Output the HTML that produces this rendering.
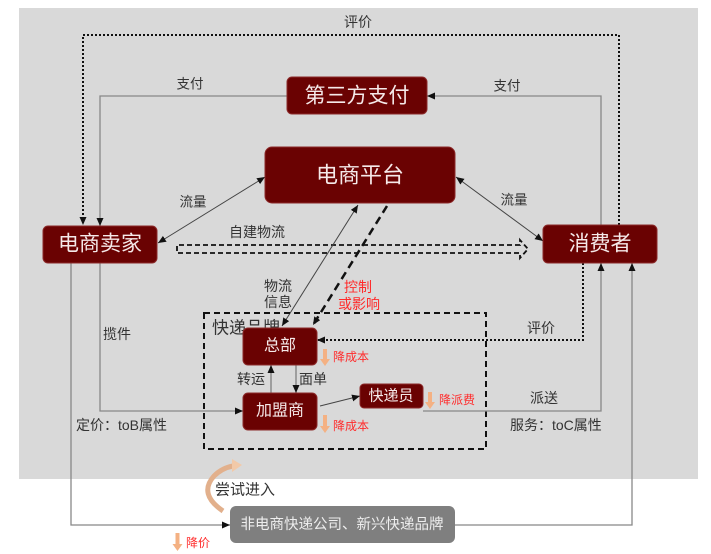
<!DOCTYPE html>
<html><head><meta charset="utf-8"><style>
html,body{margin:0;padding:0;background:#fff;}
svg{display:block;}
text{font-family:"Liberation Sans","Noto Sans CJK SC",sans-serif;}
</style></head><body>
<svg width="711" height="554" viewBox="0 0 711 554" xmlns="http://www.w3.org/2000/svg">
<defs>
<marker id="a" markerUnits="userSpaceOnUse" markerWidth="9" markerHeight="8" refX="8" refY="3.5" orient="auto-start-reverse"><path d="M0,0 L8,3.5 L0,7 z" fill="#111"/></marker>
</defs>
<rect x="19" y="8" width="679" height="471" fill="#d9d9d9"/>

<!-- top dotted 评价 -->
<path d="M619,225 V35 H83 V225" fill="none" stroke="#111" stroke-width="2" stroke-dasharray="2 2" marker-end="url(#a)"/>
<text x="358" y="22" font-size="14" fill="#333" text-anchor="middle" dominant-baseline="central">评价</text>

<!-- 支付 -->
<path d="M287,96 H100 V226" fill="none" stroke="#888" stroke-width="1.3" marker-end="url(#a)"/>
<text x="190" y="84" font-size="13.5" fill="#333" text-anchor="middle" dominant-baseline="central">支付</text>
<path d="M601,225 V96 H427" fill="none" stroke="#888" stroke-width="1.3" marker-end="url(#a)"/>
<text x="507" y="86" font-size="13.5" fill="#333" text-anchor="middle" dominant-baseline="central">支付</text>

<!-- 流量 -->
<line x1="158" y1="243" x2="265" y2="177" stroke="#444" stroke-width="1" marker-start="url(#a)" marker-end="url(#a)"/>
<text x="193" y="202" font-size="13.5" fill="#333" text-anchor="middle" dominant-baseline="central">流量</text>
<line x1="456" y1="177" x2="543" y2="241" stroke="#444" stroke-width="1" marker-start="url(#a)" marker-end="url(#a)"/>
<text x="514" y="200" font-size="13.5" fill="#333" text-anchor="middle" dominant-baseline="central">流量</text>

<!-- 自建物流 hollow arrow -->
<path d="M520,245 H177 V253 H520 V258 L528,249 L520,240 Z" fill="none" stroke="#111" stroke-width="1.8" stroke-dasharray="5 3"/>
<text x="257" y="232" font-size="14" fill="#333" text-anchor="middle" dominant-baseline="central">自建物流</text>

<!-- 物流信息 -->
<line x1="358" y1="205" x2="282" y2="326" stroke="#444" stroke-width="1" marker-start="url(#a)" marker-end="url(#a)"/>
<text x="278" y="286" font-size="14" fill="#333" text-anchor="middle" dominant-baseline="central">物流</text>
<text x="278" y="302" font-size="14" fill="#333" text-anchor="middle" dominant-baseline="central">信息</text>

<!-- 控制或影响 -->
<line x1="387" y1="206" x2="313" y2="325" stroke="#111" stroke-width="2.5" stroke-dasharray="8 5" marker-end="url(#a)"/>
<text x="358" y="287" font-size="14" fill="#ff2b2b" text-anchor="middle" dominant-baseline="central">控制</text>
<text x="359" y="304" font-size="14" fill="#ff2b2b" text-anchor="middle" dominant-baseline="central">或影响</text>

<!-- dashed box -->
<rect x="204" y="313" width="282" height="136" fill="none" stroke="#111" stroke-width="2" stroke-dasharray="6 4"/>
<text x="246" y="328" font-size="17" fill="#333" text-anchor="middle" dominant-baseline="central">快递品牌</text>

<!-- 评价 right dotted -->
<path d="M583,263 V340 H317" fill="none" stroke="#111" stroke-width="2" stroke-dasharray="2 2" marker-end="url(#a)"/>
<text x="541" y="328" font-size="14" fill="#333" text-anchor="middle" dominant-baseline="central">评价</text>

<!-- 揽件 -->
<path d="M100,263 V411 H243" fill="none" stroke="#888" stroke-width="1.3" marker-end="url(#a)"/>
<text x="117" y="334" font-size="14" fill="#333" text-anchor="middle" dominant-baseline="central">揽件</text>

<!-- 非电商 lines -->
<path d="M71,263 V525 H230" fill="none" stroke="#888" stroke-width="1.3" marker-end="url(#a)"/>
<path d="M455,525 H632 V263" fill="none" stroke="#888" stroke-width="1.3" marker-end="url(#a)"/>

<!-- 派送 -->
<path d="M423,411 H601 V263" fill="none" stroke="#888" stroke-width="1.3" marker-end="url(#a)"/>
<text x="544" y="398" font-size="14" fill="#333" text-anchor="middle" dominant-baseline="central">派送</text>
<text x="510" y="425" font-size="14" fill="#333" dominant-baseline="central">服务：toC属性</text>
<text x="76" y="425" font-size="14" fill="#333" dominant-baseline="central">定价：toB属性</text>

<!-- 转运 / 面单 -->
<line x1="271" y1="393" x2="271" y2="365" stroke="#777" stroke-width="1.2" marker-end="url(#a)"/>
<text x="251" y="379" font-size="14" fill="#333" text-anchor="middle" dominant-baseline="central">转运</text>
<line x1="296" y1="365" x2="296" y2="393" stroke="#777" stroke-width="1.2" marker-end="url(#a)"/>
<text x="313" y="379" font-size="14" fill="#333" text-anchor="middle" dominant-baseline="central">面单</text>

<!-- 加盟商 -> 快递员 -->
<line x1="320" y1="406" x2="360" y2="396" stroke="#444" stroke-width="1" marker-end="url(#a)"/>

<!-- nodes -->
<g stroke="#8c2a2a" stroke-width="1" fill="#6a0202">
<rect x="287" y="77" width="140" height="37" rx="5"/>
<rect x="265" y="147" width="190" height="56" rx="7"/>
<rect x="43" y="226" width="114" height="37" rx="5"/>
<rect x="543" y="225" width="114" height="38" rx="5"/>
<rect x="243" y="328" width="74" height="37" rx="5"/>
<rect x="243" y="393" width="74" height="37" rx="5"/>
<rect x="360" y="384" width="63" height="24" rx="4"/>
</g>
<g fill="#f5e9e9" text-anchor="middle" dominant-baseline="central">
<text x="357" y="96" font-size="21">第三方支付</text>
<text x="360" y="175" font-size="22">电商平台</text>
<text x="100" y="244" font-size="21">电商卖家</text>
<text x="600" y="244" font-size="21">消费者</text>
<text x="280" y="346" font-size="16">总部</text>
<text x="280" y="411" font-size="16">加盟商</text>
<text x="391" y="396" font-size="15">快递员</text>
</g>

<!-- 非电商 box -->
<rect x="230" y="506" width="225" height="37" rx="6" fill="#7f7f7f"/>
<text x="342" y="525" font-size="14.5" fill="#eeeeee" text-anchor="middle" dominant-baseline="central">非电商快递公司、新兴快递品牌</text>

<!-- 尝试进入 curved arrow -->
<path d="M223,511 Q198,494 214,476 Q222,468 233,466" fill="none" stroke="#e2b08c" stroke-width="5"/>
<polygon points="232,459 242,465 232,472" fill="#f2c9a8"/>
<text x="215" y="490" font-size="15" fill="#333" dominant-baseline="central">尝试进入</text>

<!-- orange down arrows -->
<g fill="#f4b183">
<path d="M175.5,533 h4 v11 h3 l-5,7 l-5,-7 h3 z"/>
<path d="M323,349 h4 v10 h3 l-5,7 l-5,-7 h3 z"/>
<path d="M323,415 h4 v11 h3 l-5,7 l-5,-7 h3 z"/>
<path d="M428,392 h4 v10 h3 l-5,7 l-5,-7 h3 z"/>
</g>
<g fill="#ff2b2b" font-size="12" dominant-baseline="central">
<text x="186" y="543">降价</text>
<text x="333" y="357">降成本</text>
<text x="333" y="426">降成本</text>
<text x="439" y="400">降派费</text>
</g>
</svg>
</body></html>
